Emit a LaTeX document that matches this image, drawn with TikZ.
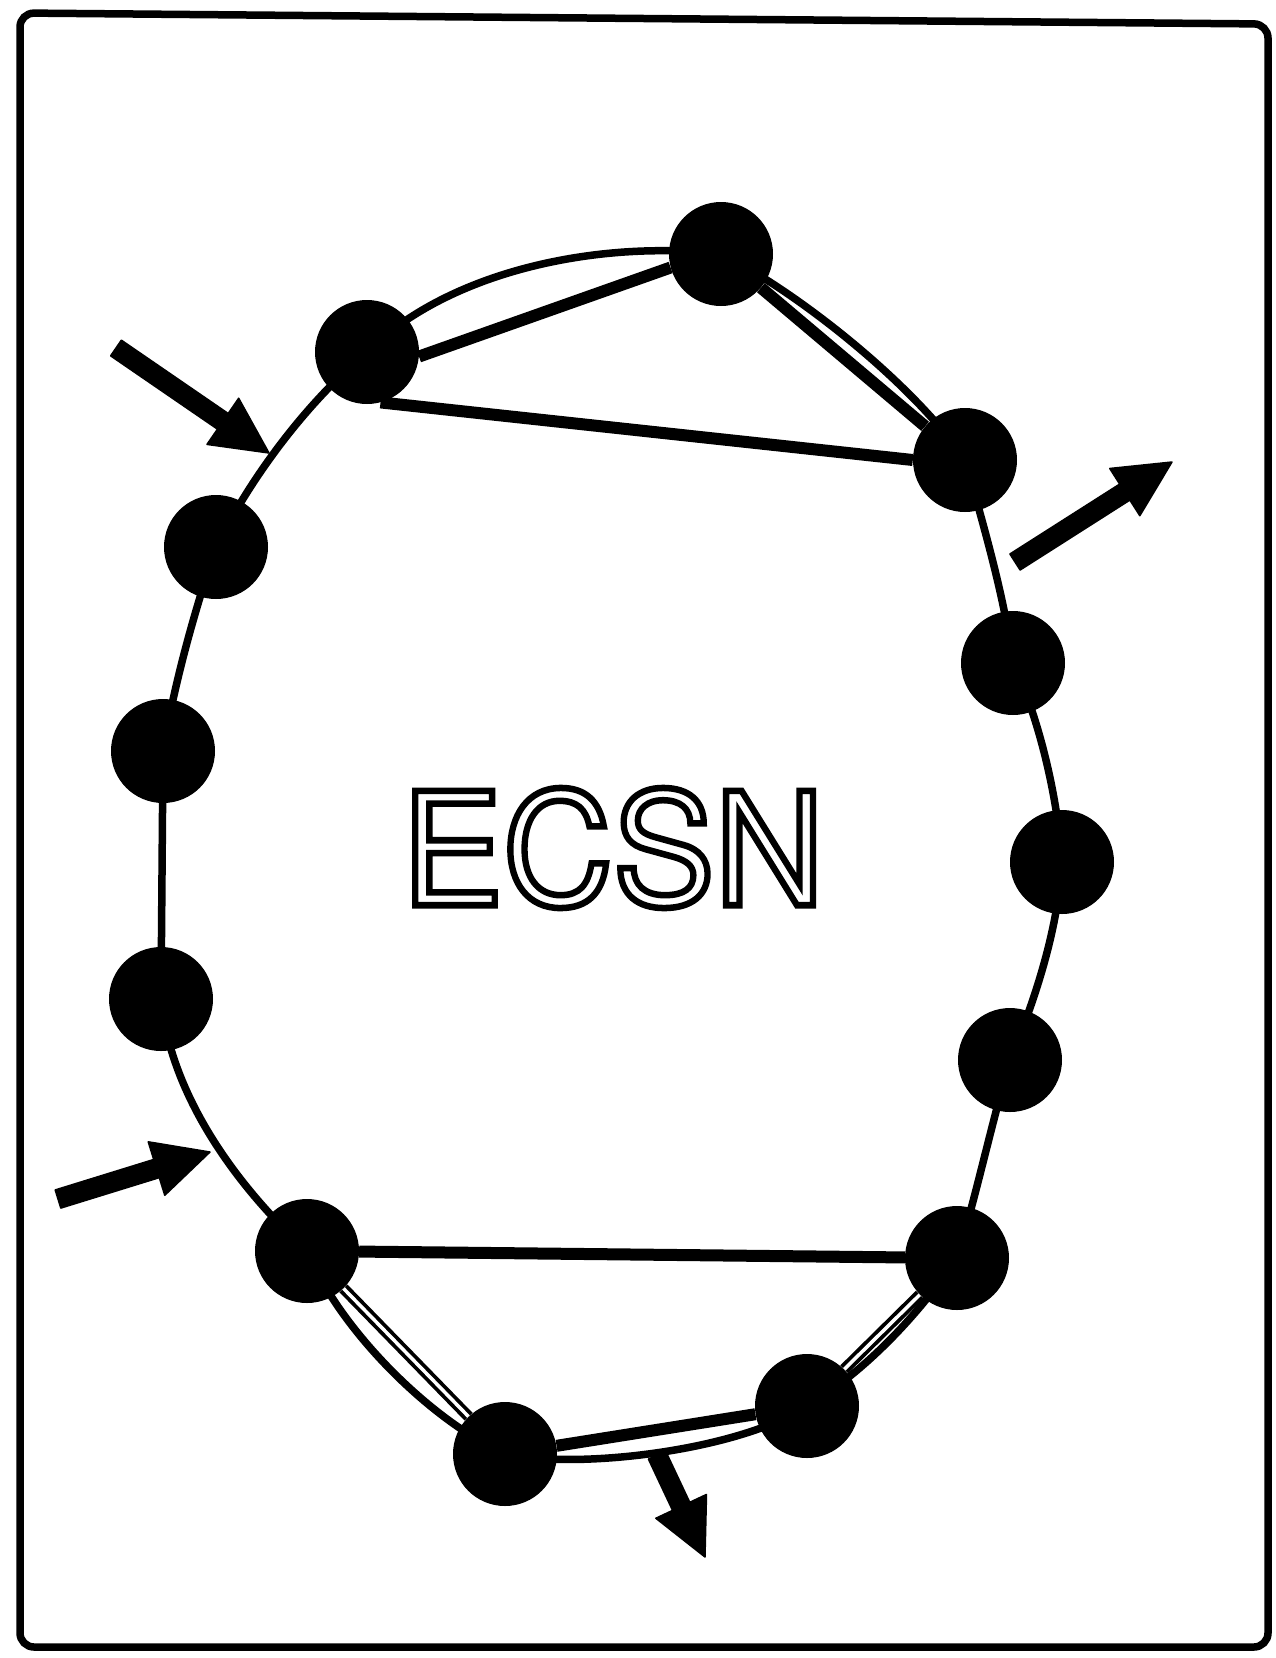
\documentclass[tikz,border=0pt]{standalone}
\usepackage{fontspec}
\setmainfont{TeX Gyre Heros}
\usetikzlibrary{calc}
\pgfdeclarelayer{background}
\pgfsetlayers{background,main}
\newcommand{\outlinetext}[1]{\special{pdf:literal direct 1 Tr 6.5 w}#1\special{pdf:literal direct 0 Tr}}
\newcommand{\flowarrow}[2]{%
  \coordinate (fb) at ($(#2)!56pt!(#1)$);
  \filldraw[flowfill] ($(#1)!9.5pt!90:(#2)$) -- ($(fb)!9.5pt!90:(#2)$) -- ($(fb)!28pt!90:(#2)$)
    -- (#2) -- ($(fb)!28pt!-90:(#2)$) -- ($(fb)!9.5pt!-90:(#2)$) -- ($(#1)!9.5pt!-90:(#2)$) -- cycle;}
\begin{document}
\begin{tikzpicture}[x=1pt,y=-1pt,
  station/.style={circle,fill=black,minimum size=104pt,inner sep=0pt},
  ringline/.style={line width=7.5pt,line join=round},
  link/.style={line width=12pt},
  dlink/.style={double,double distance=3.5pt,line width=3.8pt},
  flowfill/.style={fill=black,draw=black,line width=1.5pt,line join=round},
  frame/.style={line width=7.5pt,rounded corners=14pt}
]
\useasboundingbox (0,0) rectangle (1275,1658);
\draw[frame] (20,13) -- (1268,24) -- (1268,1647) -- (20,1647) -- cycle;

% stations
\node[station] (n1) at (367,352) {};
\node[station] (n2) at (721,254) {};
\node[station] (n3) at (965,460) {};
\node[station] (n4) at (216,547) {};
\node[station] (n5) at (1013,663) {};
\node[station] (n6) at (163,751) {};
\node[station] (n7) at (1062,862) {};
\node[station] (n8) at (161,999) {};
\node[station] (n9) at (1010,1060) {};
\node[station] (n10) at (307,1251) {};
\node[station] (n11) at (957,1258) {};
\node[station] (n12) at (505,1454) {};
\node[station] (n13) at (807,1406) {};

\begin{pgfonlayer}{background}
\draw[ringline] (n1.center)
  .. controls (450,270) and (600,240) .. (n2.center)
  .. controls (795,290) and (915,385) .. (n3.center)
  .. controls (985,530) and (1005,600) .. (n5.center)
  .. controls (1040,720) and (1058,800) .. (n7.center)
  .. controls (1058,930) and (1035,1000) .. (n9.center)
  .. controls (990,1130) and (975,1200) .. (n11.center)
  .. controls (915,1320) and (860,1375) .. (n13.center)
  .. controls (740,1450) and (580,1470) .. (n12.center)
  .. controls (430,1420) and (340,1330) .. (n10.center)
  .. controls (230,1180) and (170,1090) .. (n8.center)
  -- (n6.center)
  .. controls (175,680) and (195,610) .. (n4.center)
  .. controls (255,470) and (310,400) .. (n1.center) -- cycle;
\draw[link] (n1.355) -- (n2.195);
\draw[link] (n2) -- (n3);
\draw[link] (n1.-75) -- (n3.180);
\draw[link] (n10) -- (n11);
\draw[dlink] (n10) -- (n12);
\draw[link] (n12) -- (n13);
\draw[dlink] (n13) -- (n11);
\end{pgfonlayer}

% flows
\coordinate (a1s) at (116,348); \coordinate (a1e) at (269,453);
\coordinate (a2s) at (1015,562); \coordinate (a2e) at (1172,462);
\coordinate (a3s) at (58,1199); \coordinate (a3e) at (210,1152);
\coordinate (a4s) at (657,1455); \coordinate (a4e) at (705,1557);
\flowarrow{a1s}{a1e}
\flowarrow{a2s}{a2e}
\flowarrow{a3s}{a3e}
\flowarrow{a4s}{a4e}

\node[font=\fontsize{157}{160}\selectfont, inner sep=0pt] (title) at (613,848)
  {\scalebox{0.97}[1]{\outlinetext{ECSN}}};
\end{tikzpicture}
\end{document}
